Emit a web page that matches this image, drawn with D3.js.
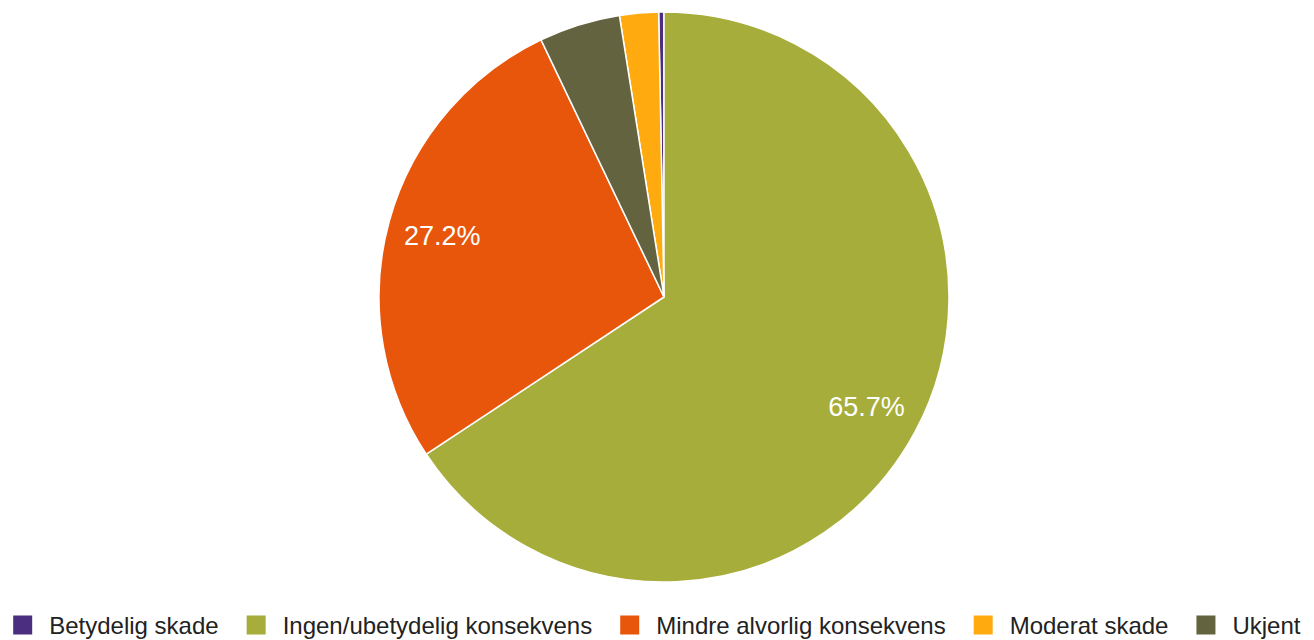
<!DOCTYPE html>
<html>
<head>
<meta charset="utf-8">
<script src="https://cdn.jsdelivr.net/npm/d3@7"></script>
<style>
  body { margin: 0; background: #fff; }
  text { font-family: Arial, 'Liberation Sans', sans-serif; }
</style>
</head>
<body>
<script>
const categories = ['Betydelig skade', 'Ingen/ubetydelig konsekvens', 'Mindre alvorlig konsekvens', 'Moderat skade', 'Ukjent']
const values = [0.3, 65.7, 27.2, 2.2, 4.6]
const colors = ['#4b2e80', '#a7ad3a', '#e8560c', '#ffab10', '#636340']

const data = categories.map((c, i) => ({ name: c, value: values[i], color: colors[i] }))

const width = 1314
const height = 640
const cx = 664
const cy = 297
const radius = 285

const svg = d3.select('body').append('svg')
  .attr('width', width)
  .attr('height', height)

const g = svg.append('g')
  .attr('transform', `translate(${cx}, ${cy})`)

// largest first, clockwise from 12 o'clock
const pie = d3.pie().value(d => d.value).sort((a, b) => b.value - a.value)
const arc = d3.arc().innerRadius(0).outerRadius(radius)
const labelArc = d3.arc().innerRadius(230).outerRadius(230)

const total = d3.sum(values)

g.selectAll('path')
  .data(pie(data))
  .enter().append('path')
  .attr('d', arc)
  .style('fill', d => d.data.color)
  .style('stroke', '#fff')
  .style('stroke-width', 1.5)

g.selectAll('.label')
  .data(pie(data).filter(d => d.data.value / total > 0.1))
  .enter().append('text')
  .attr('class', 'label')
  .attr('transform', d => `translate(${labelArc.centroid(d)})`)
  .attr('dy', '0.36em')
  .text(d => `${d.data.value.toFixed(1)}%`)
  .style('font-size', '27px')
  .style('fill', '#fff')
  .style('text-anchor', 'middle')

// legend
const legend = svg.append('g')
const sw = 19
const gap = 28
const items = legend.selectAll('g')
  .data(data)
  .enter().append('g')

items.append('rect')
  .attr('width', sw)
  .attr('height', sw)
  .attr('y', -sw / 2)
  .style('fill', d => d.color)

items.append('text')
  .attr('x', sw + 17)
  .attr('dy', '0.36em')
  .text(d => d.name)
  .style('font-size', '24px')
  .style('fill', '#222')

let x = 0
items.each(function () {
  const w = this.getBBox().width
  d3.select(this).attr('transform', `translate(${x}, 0)`)
  x += w + gap
})
const legendWidth = x - gap
legend.attr('transform', `translate(${(width - legendWidth) / 2}, 625)`)
</script>
</body>
</html>
